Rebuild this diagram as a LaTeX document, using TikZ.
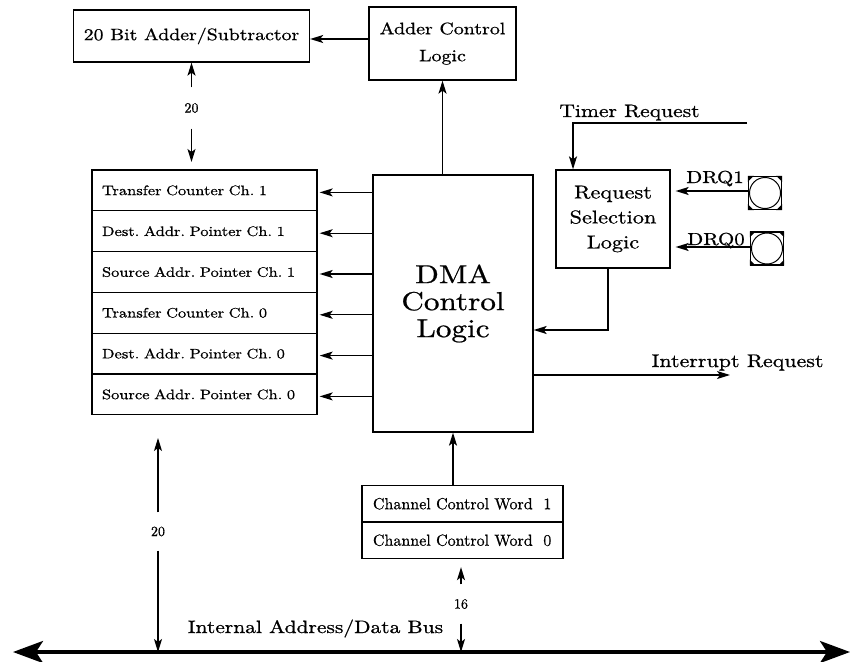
\documentclass[tikz,border=0pt]{standalone}
\usepackage{fontspec}
\newfontfamily\wide{lmroman10-regular}[Extension=.otf,FakeStretch=1.2,FakeBold=0.8]
\newfontfamily\narrow{lmroman10-regular}[Extension=.otf,FakeBold=0.8]
\usetikzlibrary{arrows.meta}
\begin{document}
\begin{tikzpicture}[x=1pt,y=-1pt,line width=1.3pt,
  blk/.style={draw,inner sep=0pt,align=center,font=\wide\fontsize{16.5}{26}\selectfont},
  reg/.style={draw,text width=205pt,inner xsep=10pt,inner ysep=0pt,minimum height=40.8pt,align=left,font=\wide\fontsize{13.7}{18}\selectfont},
  ccw/.style={reg,text width=179pt,inner xsep=11pt,minimum height=36.5pt,font=\narrow\fontsize{16}{19}\selectfont},
  lbl/.style={anchor=base,inner sep=0pt,font=\wide\fontsize{18}{24}\selectfont},
  wid/.style={inner sep=0pt,font=\narrow\fontsize{14}{16}\selectfont},
  pad/.style={draw,minimum size=33pt,inner sep=0pt},
  arr/.style={-{Stealth[length=13pt,width=8pt,inset=3pt]}}]
\useasboundingbox (0,0) rectangle (853,661);
\node[blk,minimum width=236pt,minimum height=52pt] (adder) at (191.5,36) {20 Bit Adder/Subtractor};
\node[blk,minimum width=147pt,minimum height=73pt,font=\wide\fontsize{16.6}{27}\selectfont] (acl) at (442.5,43.5) {Adder Control\\Logic};
\node[blk,minimum width=160pt,minimum height=257pt,font=\wide\fontsize{26}{27}\selectfont] (dma) at (453,303.5) {DMA\\Control\\Logic};
\node[blk,minimum width=114pt,minimum height=98pt,font=\wide\fontsize{18.6}{25}\selectfont] (rsl) at (613,219) {Request\\Selection\\Logic};
\foreach \t [count=\i] in {Transfer Counter Ch.~1,Dest.\ Addr.\ Pointer Ch.~1,Source Addr.\ Pointer Ch.~1,Transfer Counter Ch.~0,Dest.\ Addr.\ Pointer Ch.~0,Source Addr.\ Pointer Ch.~0}
  \node[reg] (r\i) at (204.5,{170+40.8*(\i-0.5)}) {\t};
\node[ccw] (ccw1) at (462.5,503.75) {Channel Control Word~~1};
\node[ccw] (ccw0) at (462.5,540.25) {Channel Control Word~~0};
\node[pad] (drq1) at (765,193) {};
\node[pad] (drq0) at (767,248.5) {};
\foreach \p in {drq1,drq0}{
  \draw[line width=1pt] (\p.center) circle (15.5);
  \foreach \a/\sx/\sy in {north west/1/1,north east/-1/1,south west/1/-1,south east/-1/-1}
    \fill (\p.\a) -- ++(6*\sx,0) -- ++(-6*\sx,6*\sy) -- cycle;
}
\node[lbl] (tmrlbl) at (629.5,117) {Timer Request};
\node[lbl,font=\wide\fontsize{17.4}{22}\selectfont] (drq1lbl) at (715,183) {DRQ1};
\node[lbl,font=\wide\fontsize{17.4}{22}\selectfont] (drq0lbl) at (716,245) {DRQ0};
\node[lbl,font=\wide\fontsize{18.3}{24}\selectfont] (irqlbl) at (737.5,367) {Interrupt Request};
\node[lbl,font=\wide\fontsize{17.9}{24}\selectfont] (buslbl) at (315.5,633) {Internal Address/Data Bus};
\node[wid,minimum height=40pt] (w20a) at (191.5,108) {20};
\node[wid,minimum height=37pt] (w20b) at (158,531.5) {20};
\node[wid,minimum height=38pt] (w16) at (461,604) {16};
\coordinate (t20a) at (191.5,162);
\coordinate (t20b) at (158,438);
\coordinate (tmr) at (747,123);
\coordinate (irq) at (730,375);
\coordinate (bl) at (13,652);
\coordinate (br) at (850,652);
\draw[arr] ([yshift=4.5pt]acl.west) -- ([yshift=4.5pt]acl.west -| adder.east);
\draw[arr] (acl.south |- dma.north) -- (acl.south);
\draw[arr] (w20a.north) -- (adder.south);
\draw[arr] (w20a.south) -- (t20a);
\foreach \i in {1,...,6}
  \draw[arr,shorten >=2pt] ([yshift=-2pt]dma.west |- r\i.east) -- ([yshift=-2pt]r\i.east);
\draw[arr] (tmr) -| ([xshift=-40pt]rsl.north);
\draw[arr,shorten >=5pt] ([yshift=2pt]drq1.west) -- ([yshift=2pt]drq1.west -| rsl.east);
\draw[arr,shorten >=5pt] ([yshift=1.5pt]drq0.west) -- ([yshift=1.5pt]drq0.west -| rsl.east);
\draw[arr] ([xshift=-5pt]rsl.south) |- ([yshift=-26.5pt]dma.east);
\draw[arr] (irq -| dma.east) -- (irq);
\draw[arr] (dma.south |- ccw1.north) -- (dma.south);
\draw[arr,shorten >=8pt] (w16.north) -- (w16.north |- ccw0.south);
\draw[arr] (w16.south) -- (w16.south |- bl);
\draw[arr] (w20b.north) -- (t20b);
\draw[arr] (w20b.south) -- (w20b.south |- bl);
\draw[line width=3.5pt,{Stealth[length=30pt,width=22pt,inset=7pt]}-{Stealth[length=30pt,width=22pt,inset=7pt]}] (bl) -- (br);
\end{tikzpicture}
\end{document}
